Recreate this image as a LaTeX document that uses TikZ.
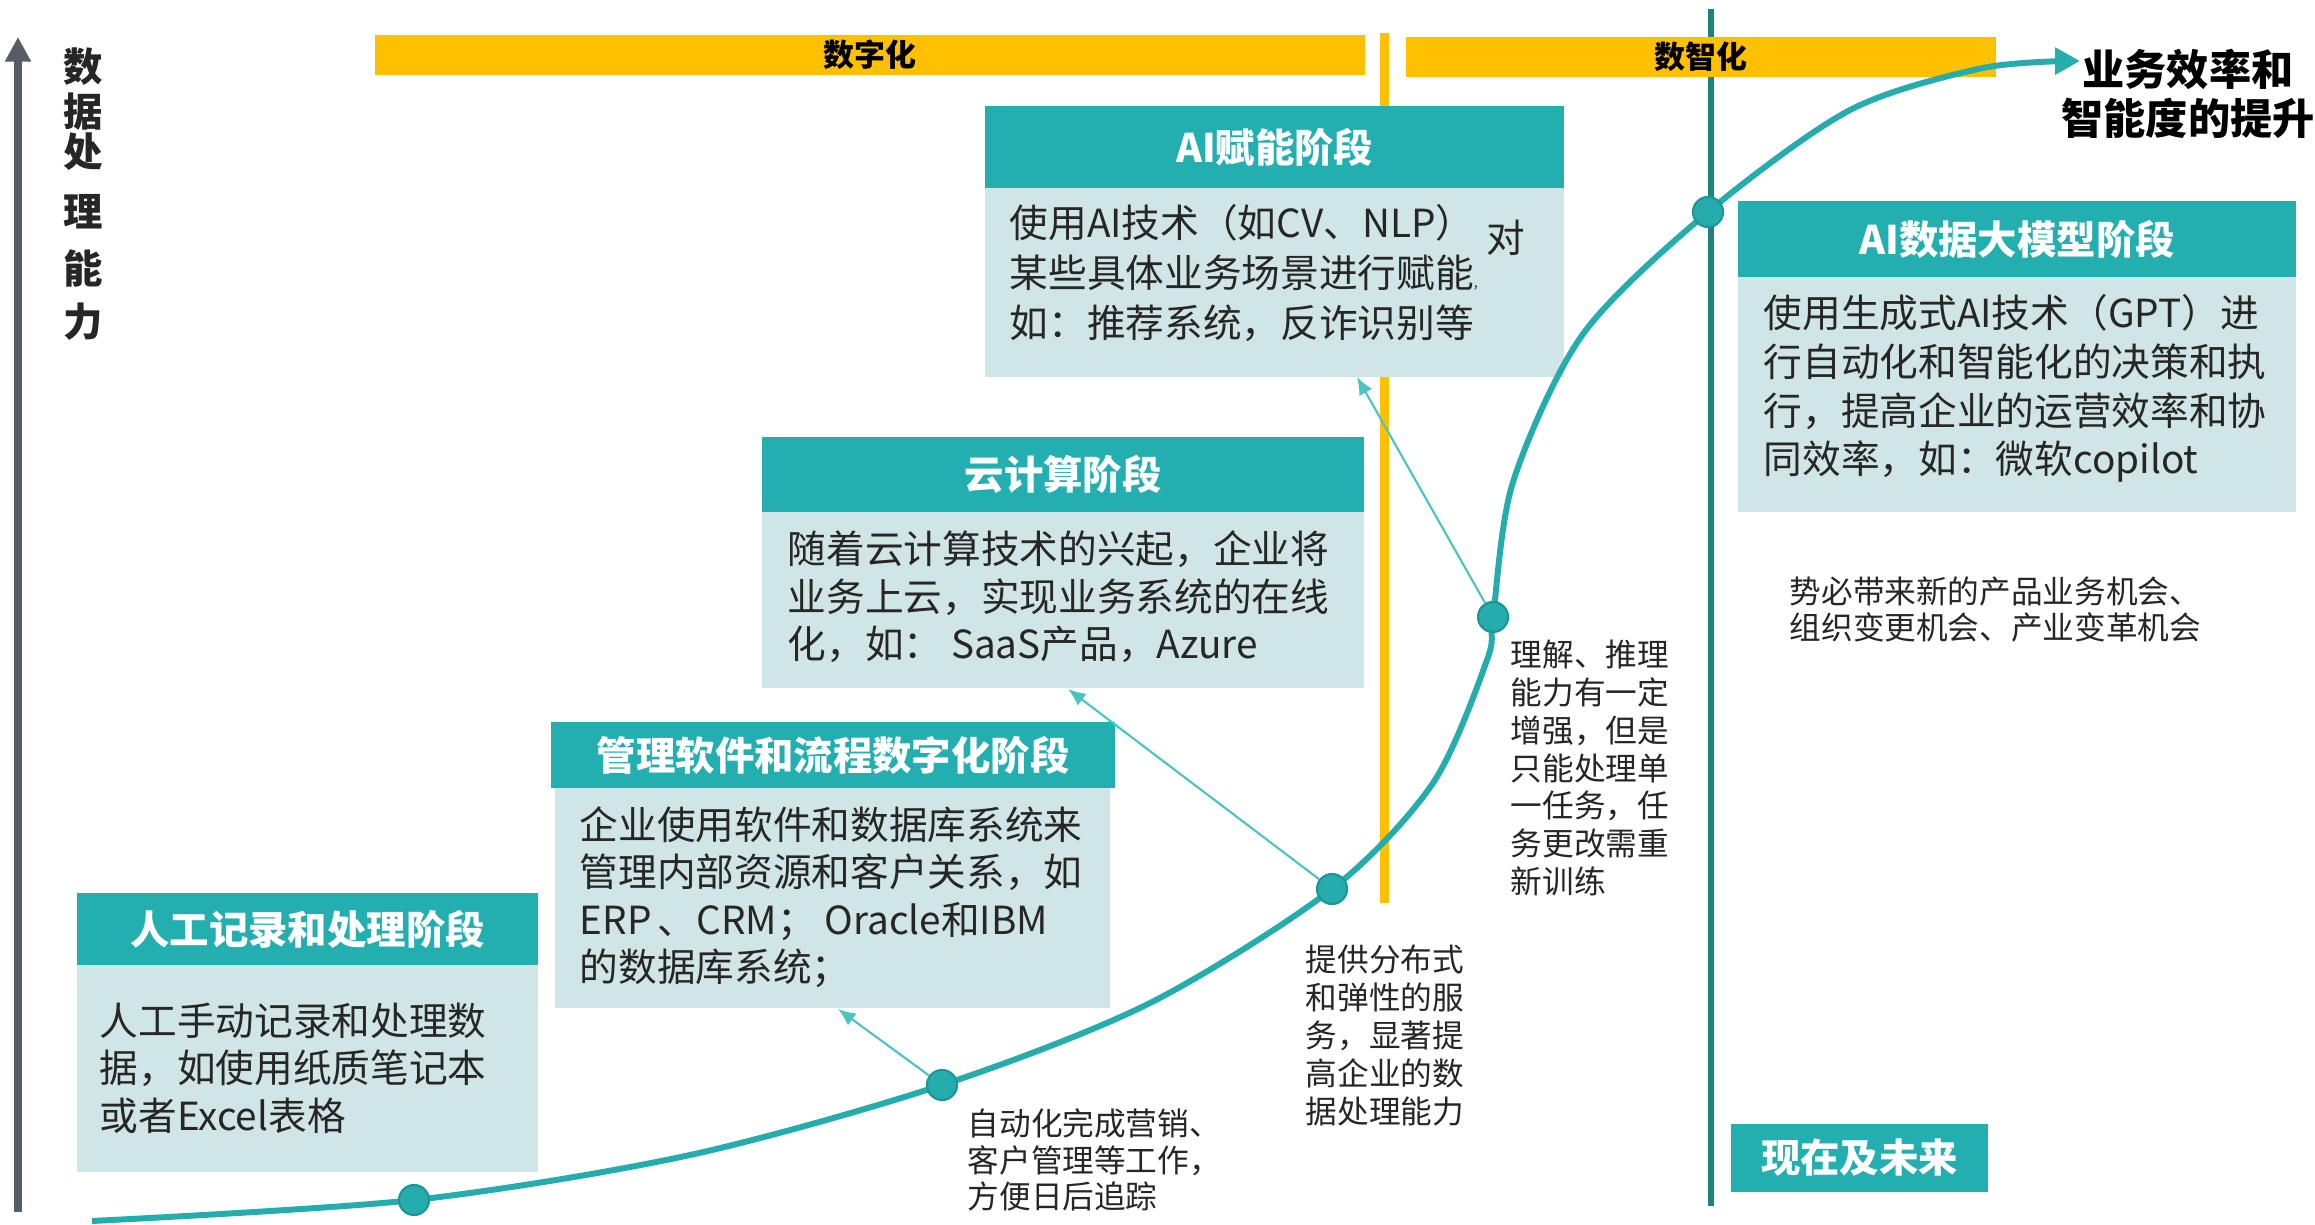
\documentclass[tikz,border=0pt]{standalone}
\usepackage{fontspec}
\setmainfont{Noto Sans CJK SC}
\usetikzlibrary{arrows.meta}
\definecolor{hdrteal}{HTML}{23AEB0}
\definecolor{bodyc}{HTML}{D0E5E6}
\definecolor{curveteal}{HTML}{25ADAE}
\definecolor{dotedge}{HTML}{1C9597}
\definecolor{connteal}{HTML}{4BC3C3}
\definecolor{gold}{HTML}{FFC000}
\definecolor{axisgray}{HTML}{575D64}
\definecolor{darkteal}{HTML}{1E827E}
\definecolor{txt}{HTML}{262626}
\tikzset{
 hdr/.style={fill=hdrteal,text=white,font=\fontsize{11.2pt}{13pt}\selectfont\bfseries,inner sep=0pt,outer sep=0pt,anchor=north west},
 bodybox/.style={fill=bodyc,inner sep=0pt,outer sep=0pt,anchor=north west},
 bodytxt/.style={text=txt,align=left,inner sep=0pt,anchor=west},
 note/.style={text=txt,align=left,inner sep=0pt,anchor=west},
 bar/.style={fill=gold,inner sep=0pt,outer sep=0pt,anchor=north west,text=black,font=\fontsize{8.8pt}{10pt}\selectfont\bfseries},
 dot/.style={circle,fill=curveteal,draw=dotedge,line width=0.6pt,minimum size=0.3cm,inner sep=0pt},
 conn/.style={draw=connteal,line width=0.6pt,-{Latex[length=5pt,width=4.2pt]}},
 vlab/.style={font=\fontsize{11.2pt}{13pt}\selectfont\bfseries,text=txt,inner sep=0pt}
}
\begin{document}
\begin{tikzpicture}[x=0.01cm,y=-0.01cm]
\useasboundingbox[fill=white] (0,0) rectangle (2315,1225);

% dividers
\draw[gold,line width=2.56pt] (1384.5,33) -- (1384.5,903);
\draw[darkteal,line width=1.6pt] (1711,9) -- (1711,1206);

% axis
\draw[axisgray,line width=2pt,-{Triangle[length=7pt,width=7pt]}] (18,1212) -- (18,37);
\foreach \c/\yy [count=\i] in {数/67,据/112,处/152,理/212,能/268,力/322}
  \node[vlab] (v\i) at (83,\yy) {\c};

% bars
\node[bar,minimum width=9.89cm,minimum height=0.40cm] (bar1) at (375,35) {数字化};
\node[bar,minimum width=5.90cm,minimum height=0.40cm] (bar2) at (1406,37) {数智化};

% box 1
\node[hdr,minimum width=4.61cm,minimum height=0.72cm] (h1) at (77,893) {人工记录和处理阶段};
\node[bodybox,minimum width=4.61cm,minimum height=2.07cm] (b1) at (77,965) {};
\node[bodytxt,font=\fontsize{11pt}{13.5pt}\selectfont] (t1) at (99,1068) {人工手动记录和处理数\\据，如使用纸质笔记本\\或者Excel表格};

% box 2
\node[hdr,minimum width=5.64cm,minimum height=0.66cm] (h2) at (551,722) {管理软件和流程数字化阶段};
\node[bodybox,minimum width=5.55cm,minimum height=2.20cm] (b2) at (555,788) {};
\node[bodytxt,font=\fontsize{11pt}{13.5pt}\selectfont] (t2) at (579,897) {企业使用软件和数据库系统来\\管理内部资源和客户关系，如\\ERP\,、CRM；\ Oracle和IBM\\的数据库系统；};

% box 3
\node[hdr,minimum width=6.02cm,minimum height=0.75cm] (h3) at (762,437) {云计算阶段};
\node[bodybox,minimum width=6.02cm,minimum height=1.76cm] (b3) at (762,512) {};
\node[bodytxt,font=\fontsize{11pt}{13.5pt}\selectfont] (t3) at (787,597) {随着云计算技术的兴起，企业将\\业务上云，实现业务系统的在线\\化，如：\ SaaS产品，Azure};

% box 4
\node[hdr,minimum width=5.79cm,minimum height=0.82cm] (h4) at (985,106) {AI赋能阶段};
\node[bodybox,minimum width=5.79cm,minimum height=1.89cm] (b4) at (985,188) {};
\node[bodytxt,font=\fontsize{11pt}{14.1pt}\selectfont] (t4) at (1009,273) {使用AI技术（如CV、NLP）\\某些具体业务场景进行赋能{\fontsize{4pt}{4pt}\selectfont ,}\\如：推荐系统，反诈识别等};
\node[bodytxt,anchor=center,font=\fontsize{11pt}{14pt}\selectfont] (t4b) at (1506,238) {对};

% box 5
\node[hdr,minimum width=5.58cm,minimum height=0.76cm] (h5) at (1738,201) {AI数据大模型阶段};
\node[bodybox,minimum width=5.58cm,minimum height=2.35cm] (b5) at (1738,277) {};
\node[bodytxt,font=\fontsize{11pt}{13.9pt}\selectfont] (t5) at (1763,388.5) {使用生成式AI技术（GPT）进\\行自动化和智能化的决策和执\\行，提高企业的运营效率和协\\同效率，如：微软copilot};

% now & future
\node[hdr,anchor=center,minimum width=2.57cm,minimum height=0.68cm] (now) at (1859.5,1158) {现在及未来};

% notes
\node[note,font=\fontsize{9pt}{10.4pt}\selectfont] (n1) at (967,1160) {自动化完成营销、\\客户管理等工作，\\方便日后追踪};
\node[note,font=\fontsize{9pt}{10.8pt}\selectfont] (n2) at (1305,1035.5) {提供分布式\\和弹性的服\\务，显著提\\高企业的数\\据处理能力};
\node[note,font=\fontsize{9pt}{10.75pt}\selectfont] (n3) at (1510,768) {理解、推理\\能力有一定\\增强，但是\\只能处理单\\一任务，任\\务更改需重\\新训练};
\node[note,font=\fontsize{9pt}{10pt}\selectfont] (n4) at (1789,609.5) {势必带来新的产品业务机会、\\组织变更机会、产业变革机会};

% goal label
\node[align=center,inner sep=0pt,text=black,font=\fontsize{12pt}{13.9pt}\selectfont\bfseries] (goal) at (2188,93.5) {业务效率和\\智能度的提升};

% curve
\draw[curveteal,line width=1.7pt,-{Triangle[length=7.1pt,width=7.4pt]}]
  plot[smooth,tension=0.5] coordinates {(92,1221) (414,1200) (690,1155) (942,1085) (1150,1003) (1332,889) (1433,783) (1487,660) (1493,617) (1513,482) (1583,334) (1708,212) (1850,110) (1983,68) (2080,61)};

% dots
\node[dot] (d1) at (414,1200) {};
\node[dot] (d2) at (942,1085) {};
\node[dot] (d3) at (1332,889) {};
\node[dot] (d4) at (1493,617) {};
\node[dot] (d5) at (1708,212) {};

% connector targets
\coordinate (e2) at (838,1009);
\coordinate (e3) at (1068,689);
\coordinate (e4) at (1357,377);
\draw[conn] (d2) -- (e2);
\draw[conn] (d3) -- (e3);
\draw[conn] (d4) -- (e4);
\end{tikzpicture}
\end{document}
